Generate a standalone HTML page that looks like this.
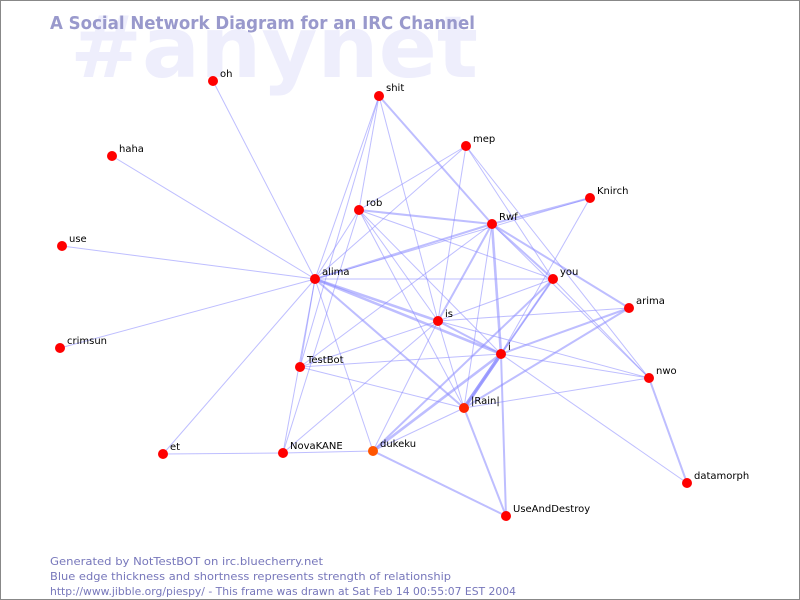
<!DOCTYPE html>
<html><head><style>
body{margin:0;width:800px;height:600px;overflow:hidden;background:#fff}
svg{display:block}
text{font-family:"DejaVu Sans","Liberation Sans",sans-serif}
</style></head><body>
<svg width="800" height="600" viewBox="0 0 800 600">
<rect x="0.5" y="0.5" width="799" height="599" fill="#fff" stroke="#888"/>
<text x="70" y="77" font-size="86" font-weight="bold" fill="#eeeefc">#anynet</text>
<text x="50" y="29" font-size="18" font-weight="bold" fill="#9999cc" textLength="425" lengthAdjust="spacingAndGlyphs">A Social Network Diagram for an IRC Channel</text>
<g stroke="#8888ff" fill="none" stroke-opacity="0.55">
<g stroke-width="1">
<line x1="315" y1="279" x2="213" y2="81"/>
<line x1="315" y1="279" x2="112" y2="156"/>
<line x1="315" y1="279" x2="62" y2="246"/>
<line x1="315" y1="279" x2="60" y2="348"/>
<line x1="315" y1="279" x2="163" y2="454"/>
<line x1="315" y1="279" x2="379" y2="96"/>
<line x1="315" y1="279" x2="466" y2="146"/>
<line x1="315" y1="279" x2="553" y2="279"/>
<line x1="315" y1="279" x2="300" y2="367"/>
<line x1="315" y1="279" x2="283" y2="453"/>
<line x1="315" y1="279" x2="373" y2="451"/>
<line x1="315" y1="279" x2="590" y2="198"/>
<line x1="315" y1="279" x2="359" y2="210"/>
<line x1="163" y1="454" x2="283" y2="453"/>
<line x1="283" y1="453" x2="373" y2="451"/>
<line x1="283" y1="453" x2="438" y2="321"/>
<line x1="283" y1="453" x2="359" y2="210"/>
<line x1="300" y1="367" x2="379" y2="96"/>
<line x1="300" y1="367" x2="438" y2="321"/>
<line x1="300" y1="367" x2="501" y2="354"/>
<line x1="300" y1="367" x2="464" y2="408"/>
<line x1="300" y1="367" x2="492" y2="224"/>
<line x1="359" y1="210" x2="379" y2="96"/>
<line x1="359" y1="210" x2="466" y2="146"/>
<line x1="359" y1="210" x2="438" y2="321"/>
<line x1="359" y1="210" x2="464" y2="408"/>
<line x1="359" y1="210" x2="553" y2="279"/>
<line x1="379" y1="96" x2="438" y2="321"/>
<line x1="466" y1="146" x2="438" y2="321"/>
<line x1="466" y1="146" x2="553" y2="279"/>
<line x1="466" y1="146" x2="649" y2="378"/>
<line x1="438" y1="321" x2="629" y2="308"/>
<line x1="438" y1="321" x2="649" y2="378"/>
<line x1="438" y1="321" x2="464" y2="408"/>
<line x1="438" y1="321" x2="373" y2="451"/>
<line x1="438" y1="321" x2="553" y2="279"/>
<line x1="501" y1="354" x2="649" y2="378"/>
<line x1="501" y1="354" x2="687" y2="483"/>
<line x1="501" y1="354" x2="590" y2="198"/>
<line x1="501" y1="354" x2="359" y2="210"/>
<line x1="464" y1="408" x2="649" y2="378"/>
<line x1="373" y1="451" x2="464" y2="408"/>
<line x1="492" y1="224" x2="649" y2="378"/>
<line x1="492" y1="224" x2="464" y2="408"/>
<line x1="553" y1="279" x2="649" y2="378"/>
<line x1="553" y1="279" x2="464" y2="408"/>
</g>
<g stroke-width="2">
<line x1="315" y1="279" x2="492" y2="224"/>
<line x1="315" y1="279" x2="464" y2="408"/>
<line x1="359" y1="210" x2="492" y2="224"/>
<line x1="379" y1="96" x2="492" y2="224"/>
<line x1="492" y1="224" x2="590" y2="198"/>
<line x1="492" y1="224" x2="629" y2="308"/>
<line x1="492" y1="224" x2="438" y2="321"/>
<line x1="492" y1="224" x2="553" y2="279"/>
<line x1="501" y1="354" x2="629" y2="308"/>
<line x1="501" y1="354" x2="506" y2="516"/>
<line x1="501" y1="354" x2="553" y2="279"/>
<line x1="464" y1="408" x2="629" y2="308"/>
<line x1="464" y1="408" x2="506" y2="516"/>
<line x1="373" y1="451" x2="506" y2="516"/>
<line x1="373" y1="451" x2="553" y2="279"/>
<line x1="649" y1="378" x2="687" y2="483"/>
<line x1="438" y1="321" x2="501" y2="354"/>
</g>
<g stroke-width="2.6">
<line x1="315" y1="279" x2="438" y2="321"/>
<line x1="315" y1="279" x2="501" y2="354"/>
<line x1="492" y1="224" x2="501" y2="354"/>
<line x1="501" y1="354" x2="373" y2="451"/>
</g>
<line x1="501" y1="354" x2="464" y2="408" stroke-width="3.5" stroke-opacity="0.8"/>
</g>
<g fill="#ff0000">
<circle cx="213" cy="81" r="5"/><circle cx="379" cy="96" r="5"/><circle cx="112" cy="156" r="5"/>
<circle cx="466" cy="146" r="5"/><circle cx="590" cy="198" r="5"/><circle cx="359" cy="210" r="5"/>
<circle cx="492" cy="224" r="5"/><circle cx="62" cy="246" r="5"/><circle cx="315" cy="279" r="5"/>
<circle cx="553" cy="279" r="5"/><circle cx="629" cy="308" r="5"/><circle cx="438" cy="321" r="5"/>
<circle cx="60" cy="348" r="5"/><circle cx="501" cy="354" r="5"/><circle cx="300" cy="367" r="5"/>
<circle cx="649" cy="378" r="5"/><circle cx="464" cy="408" r="5" fill="#ff2200"/><circle cx="163" cy="454" r="5"/>
<circle cx="283" cy="453" r="5"/><circle cx="373" cy="451" r="5" fill="#ff5500"/><circle cx="687" cy="483" r="5"/>
<circle cx="506" cy="516" r="5"/>
</g>
<g font-size="10" fill="#000">
<text x="220" y="77">oh</text><text x="386" y="91">shit</text><text x="119" y="152">haha</text>
<text x="473" y="142">mep</text><text x="597" y="194">Knirch</text><text x="366" y="206">rob</text>
<text x="499" y="220">Rwf</text><text x="69" y="242">use</text><text x="322" y="275">alima</text>
<text x="560" y="275">you</text><text x="636" y="304">arima</text><text x="445" y="317">is</text>
<text x="67" y="344">crimsun</text><text x="508" y="350">i</text><text x="307" y="363">TestBot</text>
<text x="656" y="374">nwo</text><text x="471" y="404">|Rain|</text><text x="170" y="450">et</text>
<text x="290" y="449">NovaKANE</text><text x="380" y="447">dukeku</text><text x="694" y="479">datamorph</text>
<text x="513" y="512">UseAndDestroy</text>
</g>
<g font-size="11" fill="#7777bb">
<text x="50" y="565" textLength="273" lengthAdjust="spacingAndGlyphs">Generated by NotTestBOT on irc.bluecherry.net</text>
<text x="50" y="580" textLength="401" lengthAdjust="spacingAndGlyphs">Blue edge thickness and shortness represents strength of relationship</text>
<text x="50" y="595" textLength="466" lengthAdjust="spacingAndGlyphs">http://www.jibble.org/piespy/ - This frame was drawn at Sat Feb 14 00:55:07 EST 2004</text>
</g>
</svg>
</body></html>
